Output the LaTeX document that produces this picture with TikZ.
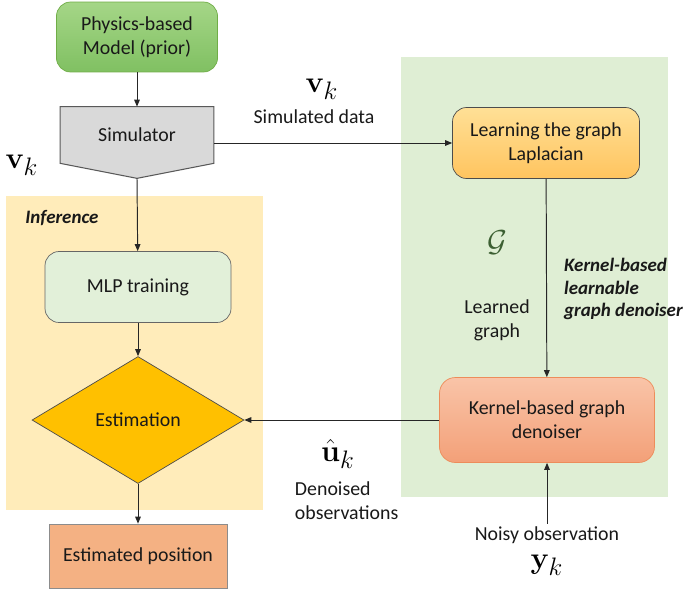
\documentclass[tikz,border=0pt]{standalone}
\usepackage{amsmath}
\usepackage[no-math]{fontspec}
\setmainfont{Carlito}
\usepackage{xcolor}
\usepackage{tikz}
\usetikzlibrary{shapes.geometric,arrows.meta,positioning,calc,backgrounds}

\definecolor{physTop}{RGB}{165,214,135}
\definecolor{physBot}{RGB}{128,192,98}
\definecolor{physLine}{RGB}{112,173,71}
\definecolor{simFill}{RGB}{217,217,217}
\definecolor{mlpFill}{RGB}{226,240,217}
\definecolor{estFill}{RGB}{255,192,0}
\definecolor{posFill}{RGB}{244,177,131}
\definecolor{learnTop}{RGB}{255,224,150}
\definecolor{learnBot}{RGB}{255,196,95}
\definecolor{denTop}{RGB}{249,196,168}
\definecolor{denBot}{RGB}{243,160,120}
\definecolor{denLine}{RGB}{237,140,90}
\definecolor{infBg}{RGB}{255,236,186}
\definecolor{graphBg}{RGB}{223,238,212}
\definecolor{gGreen}{RGB}{60,95,50}

\begin{document}
\begin{tikzpicture}[
  x=0.02cm,y=-0.02cm,
  txt/.style  ={font=\fontsize{11.3}{13.6}\selectfont,text=black!90,align=center},
  phys/.style ={txt,rectangle,draw=physLine,top color=physTop,bottom color=physBot,
                rounded corners=8pt,minimum width=3.22cm,minimum height=1.4cm},
  simbox/.style={txt,rectangle,minimum width=3.06cm,minimum height=1.12cm},
  mlp/.style  ={txt,rectangle,draw=black!60,fill=mlpFill,rounded corners=8pt,
                minimum width=3.72cm,minimum height=1.42cm},
  est/.style  ={txt,diamond,draw=black!70,fill=estFill,inner sep=0pt,
                minimum width=4.24cm,minimum height=2.54cm},
  posbox/.style={txt,rectangle,draw=black!45,fill=posFill,
                minimum width=3.56cm,minimum height=1.28cm},
  learn/.style={txt,rectangle,draw=black!70,top color=learnTop,bottom color=learnBot,
                rounded corners=8pt,minimum width=3.74cm,minimum height=1.42cm},
  den/.style  ={txt,rectangle,draw=denLine,top color=denTop,bottom color=denBot,
                rounded corners=9pt,minimum width=4.3cm,minimum height=1.7cm},
  mth/.style  ={font=\fontsize{19}{22}\selectfont,inner sep=1pt},
  lbl/.style  ={txt,font=\fontsize{11.3}{13.6}\selectfont,inner sep=1.5pt},
  ital/.style ={txt,font=\fontsize{10.8}{13}\selectfont\bfseries\itshape},
  ar/.style   ={-{Triangle[length=4pt,width=3.2pt]},line width=0.55pt,color=black!85}
]
\useasboundingbox (0,0) rectangle (685,592);

% left column
\node[phys]   (phys)  at (137,37)  {Physics-based\\Model (prior)};
\node[simbox] (sim)   at (137,135) {Simulator};
\coordinate   (simtip) at ($(sim.south)+(0,15)$);
\node[mlp]    (mlp)   at (138,287) {MLP training};
\node[est]    (estim) at (138,420) {Estimation};
\node[posbox] (epos)  at (138,556) {Estimated position};

% right column
\node[learn]  (learn) at (546,143) {Learning the graph\\Laplacian};
\node[den]    (den)   at (547,420) {Kernel-based graph\\denoiser};
\node[lbl]    (noisy) at (547,535) {Noisy observation};
\node[mth]    (yk)    at (547,565) {$\mathbf{y}_k$};

% labels
\node[mth]  (vleft) at (22,165)  {$\mathbf{v}_k$};
\node[mth]  (vtop)  at (322,89)  {$\mathbf{v}_k$};
\node[lbl]  (simd)  at (314,117) {Simulated data};
\node[ital] (infer) at (62,218)  {Inference};
\node[mth,text=gGreen] (gcal) at (497,243) {$\mathcal{G}$};
\node[lbl]  (lgr)   at (497,320) {Learned\\graph};
\node[ital,align=left,anchor=west] (kbl) at (558,289)
  {Kernel-based\\learnable\\graph denoiser};
\node[mth]  (uhat)  at (338,454) {$\hat{\mathbf{u}}_k$};
\node[lbl,align=left,anchor=west] (dobs) at (292,501) {Denoised\\observations};

\begin{scope}[on background layer]
  \fill[infBg]   (6,196)  rectangle (263,510);
  \fill[graphBg] (401,57) rectangle (668,497);
  \draw[fill=simFill,draw=black!65,line width=0.6pt]
    (sim.north west) -- (sim.north east) -- (sim.south east)
    -- (simtip) -- (sim.south west) -- cycle;
\end{scope}

\draw[ar] (phys) -- (sim);
\draw[ar] (simtip) -- (mlp);
\draw[ar] (mlp) -- (estim);
\draw[ar] (estim) -- (epos);
\draw[ar] (sim.east |- learn.west) -- (learn.west);
\draw[ar] (learn) -- (den);
\draw[ar] (den) -- (estim);
\draw[ar] (noisy) -- (den);
\end{tikzpicture}
\end{document}
